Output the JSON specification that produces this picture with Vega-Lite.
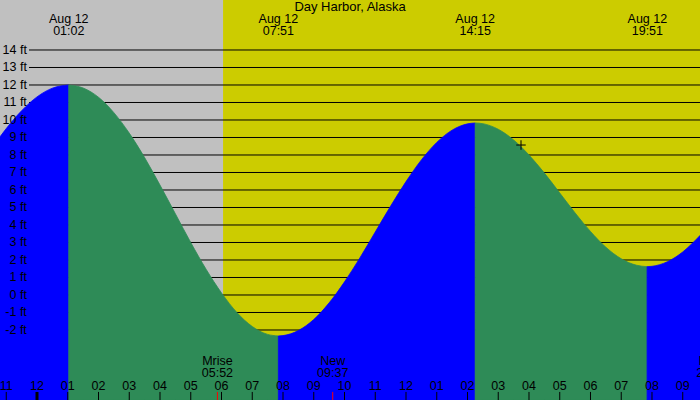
{
  "$schema": "https://vega.github.io/schema/vega-lite/v6.json",
  "width": 700,
  "height": 400,
  "autosize": "none",
  "padding": 0,
  "background": "#ffffff",
  "config": {
    "view": {"stroke": null},
    "text": {"font": "Liberation Sans", "fontSize": 12.5, "color": "black"}
  },
  "resolve": {"scale": {"color": "independent"}},
  "datasets": {
    "bands": [
      {"h": -1.2033, "h2": 6.05, "part": "night"},
      {"h": 6.05, "h2": 21.561, "part": "day"}
    ],
    "levels": [
      {"ft": -2, "lab": "-2 ft"}, {"ft": -1, "lab": "-1 ft"}, {"ft": 0, "lab": "0 ft"},
      {"ft": 1, "lab": "1 ft"}, {"ft": 2, "lab": "2 ft"}, {"ft": 3, "lab": "3 ft"},
      {"ft": 4, "lab": "4 ft"}, {"ft": 5, "lab": "5 ft"}, {"ft": 6, "lab": "6 ft"},
      {"ft": 7, "lab": "7 ft"}, {"ft": 8, "lab": "8 ft"}, {"ft": 9, "lab": "9 ft"},
      {"ft": 10, "lab": "10 ft"}, {"ft": 11, "lab": "11 ft"}, {"ft": 12, "lab": "12 ft"},
      {"ft": 13, "lab": "13 ft"}, {"ft": 14, "lab": "14 ft"}
    ],
    "tide": [
      {"h": -1.2033, "ft": 9.04, "seg": "p", "dir": "rise"},
      {"h": -1.0, "ft": 9.51, "seg": "p", "dir": "rise"},
      {"h": -0.5, "ft": 10.53, "seg": "p", "dir": "rise"},
      {"h": 0, "ft": 11.32, "seg": "p", "dir": "rise"},
      {"h": 0.5, "ft": 11.82, "seg": "p", "dir": "rise"},
      {"h": 1.033, "ft": 12.0, "seg": "p", "dir": "rise"},
      {"h": 1.033, "ft": 12.0, "seg": "a", "dir": "fall"},
      {"h": 1.5, "ft": 11.83, "seg": "a", "dir": "fall"},
      {"h": 2, "ft": 11.3, "seg": "a", "dir": "fall"},
      {"h": 2.5, "ft": 10.42, "seg": "a", "dir": "fall"},
      {"h": 3, "ft": 9.25, "seg": "a", "dir": "fall"},
      {"h": 3.5, "ft": 7.85, "seg": "a", "dir": "fall"},
      {"h": 4, "ft": 6.28, "seg": "a", "dir": "fall"},
      {"h": 4.5, "ft": 4.64, "seg": "a", "dir": "fall"},
      {"h": 5, "ft": 3.0, "seg": "a", "dir": "fall"},
      {"h": 5.5, "ft": 1.47, "seg": "a", "dir": "fall"},
      {"h": 6, "ft": 0.12, "seg": "a", "dir": "fall"},
      {"h": 6.5, "ft": -1.0, "seg": "a", "dir": "fall"},
      {"h": 7, "ft": -1.8, "seg": "a", "dir": "fall"},
      {"h": 7.5, "ft": -2.25, "seg": "a", "dir": "fall"},
      {"h": 7.85, "ft": -2.34, "seg": "a", "dir": "fall"},
      {"h": 7.85, "ft": -2.34, "seg": "b", "dir": "rise"},
      {"h": 8, "ft": -2.32, "seg": "b", "dir": "rise"},
      {"h": 8.5, "ft": -2.03, "seg": "b", "dir": "rise"},
      {"h": 9, "ft": -1.4, "seg": "b", "dir": "rise"},
      {"h": 9.5, "ft": -0.45, "seg": "b", "dir": "rise"},
      {"h": 10, "ft": 0.75, "seg": "b", "dir": "rise"},
      {"h": 10.5, "ft": 2.12, "seg": "b", "dir": "rise"},
      {"h": 11, "ft": 3.6, "seg": "b", "dir": "rise"},
      {"h": 11.5, "ft": 5.08, "seg": "b", "dir": "rise"},
      {"h": 12, "ft": 6.48, "seg": "b", "dir": "rise"},
      {"h": 12.5, "ft": 7.72, "seg": "b", "dir": "rise"},
      {"h": 13, "ft": 8.72, "seg": "b", "dir": "rise"},
      {"h": 13.5, "ft": 9.42, "seg": "b", "dir": "rise"},
      {"h": 14, "ft": 9.78, "seg": "b", "dir": "rise"},
      {"h": 14.25, "ft": 9.83, "seg": "b", "dir": "rise"},
      {"h": 14.25, "ft": 9.83, "seg": "c", "dir": "fall"},
      {"h": 14.5, "ft": 9.79, "seg": "c", "dir": "fall"},
      {"h": 15, "ft": 9.47, "seg": "c", "dir": "fall"},
      {"h": 15.5, "ft": 8.86, "seg": "c", "dir": "fall"},
      {"h": 16, "ft": 8.0, "seg": "c", "dir": "fall"},
      {"h": 16.5, "ft": 6.97, "seg": "c", "dir": "fall"},
      {"h": 17, "ft": 5.83, "seg": "c", "dir": "fall"},
      {"h": 17.5, "ft": 4.69, "seg": "c", "dir": "fall"},
      {"h": 18, "ft": 3.63, "seg": "c", "dir": "fall"},
      {"h": 18.5, "ft": 2.73, "seg": "c", "dir": "fall"},
      {"h": 19, "ft": 2.07, "seg": "c", "dir": "fall"},
      {"h": 19.5, "ft": 1.7, "seg": "c", "dir": "fall"},
      {"h": 19.84, "ft": 1.62, "seg": "c", "dir": "fall"},
      {"h": 19.84, "ft": 1.62, "seg": "d", "dir": "rise"},
      {"h": 20, "ft": 1.64, "seg": "d", "dir": "rise"},
      {"h": 20.5, "ft": 1.9, "seg": "d", "dir": "rise"},
      {"h": 21, "ft": 2.46, "seg": "d", "dir": "rise"},
      {"h": 21.561, "ft": 3.4, "seg": "d", "dir": "rise"}
    ],
    "extremes": [
      {"h": 1.033, "lab": "Aug 12\n01:02"},
      {"h": 7.85, "lab": "Aug 12\n07:51"},
      {"h": 14.25, "lab": "Aug 12\n14:15"},
      {"h": 19.85, "lab": "Aug 12\n19:51"}
    ],
    "moon": [
      {"h": 5.867, "lab": "Mrise\n05:52"},
      {"h": 9.617, "lab": "New\n09:37"},
      {"h": 21.95, "lab": "Mset\n21:57"}
    ],
    "hours": [
      {"h": -1, "lab": "11"}, {"h": 0, "lab": "12"}, {"h": 1, "lab": "01"},
      {"h": 2, "lab": "02"}, {"h": 3, "lab": "03"}, {"h": 4, "lab": "04"},
      {"h": 5, "lab": "05"}, {"h": 6, "lab": "06"}, {"h": 7, "lab": "07"},
      {"h": 8, "lab": "08"}, {"h": 9, "lab": "09"}, {"h": 10, "lab": "10"},
      {"h": 11, "lab": "11"}, {"h": 12, "lab": "12"}, {"h": 13, "lab": "01"},
      {"h": 14, "lab": "02"}, {"h": 15, "lab": "03"}, {"h": 16, "lab": "04"},
      {"h": 17, "lab": "05"}, {"h": 18, "lab": "06"}, {"h": 19, "lab": "07"},
      {"h": 20, "lab": "08"}, {"h": 21, "lab": "09"}
    ],
    "now": [{"h": 15.74, "ft": 8.57}],
    "title": [{"h": 10.18, "ft": 16.2, "lab": "Day Harbor, Alaska"}]
  },
  "layer": [
    {
      "data": {"name": "bands"},
      "mark": "rect",
      "encoding": {
        "x": {"field": "h", "type": "quantitative", "scale": {"domain": [-1.2033, 21.561], "nice": false, "zero": false}, "axis": null},
        "x2": {"field": "h2"},
        "y": {"datum": 16.857, "type": "quantitative", "scale": {"domain": [-6, 16.857], "nice": false, "zero": false}, "axis": null},
        "y2": {"datum": -6},
        "color": {"field": "part", "type": "nominal", "scale": {"domain": ["night", "day"], "range": ["#c0c0c0", "#cccc00"]}, "legend": null}
      }
    },
    {
      "data": {"name": "levels"},
      "mark": {"type": "rule", "color": "black", "strokeWidth": 1},
      "encoding": {
        "y": {"field": "ft", "type": "quantitative", "scale": {"domain": [-6, 16.857], "nice": false, "zero": false}, "axis": null},
        "x": {"datum": -0.26, "type": "quantitative", "scale": {"domain": [-1.2033, 21.561], "nice": false, "zero": false}, "axis": null},
        "x2": {"datum": 21.561}
      }
    },
    {
      "data": {"name": "tide"},
      "mark": {"type": "area", "interpolate": "monotone", "strokeWidth": 0.8},
      "encoding": {
        "x": {"field": "h", "type": "quantitative", "scale": {"domain": [-1.2033, 21.561], "nice": false, "zero": false}, "axis": null},
        "y": {"field": "ft", "type": "quantitative", "scale": {"domain": [-6, 16.857], "nice": false, "zero": false}, "axis": null},
        "y2": {"datum": -6},
        "detail": {"field": "seg", "type": "nominal"},
        "color": {"field": "dir", "type": "nominal", "scale": {"domain": ["rise", "fall"], "range": ["#0000ff", "#2e8b57"]}, "legend": null},
        "stroke": {"field": "dir", "type": "nominal", "scale": {"domain": ["rise", "fall"], "range": ["#0000ff", "#2e8b57"]}, "legend": null}
      }
    },
    {
      "data": {"name": "levels"},
      "mark": {"type": "text", "align": "right", "baseline": "middle"},
      "encoding": {
        "y": {"field": "ft", "type": "quantitative"},
        "x": {"datum": -0.33, "type": "quantitative"},
        "text": {"field": "lab"}
      }
    },
    {
      "data": {"name": "extremes"},
      "mark": {"type": "text", "align": "center", "baseline": "alphabetic", "lineBreak": "\n", "lineHeight": 12},
      "encoding": {
        "x": {"field": "h", "type": "quantitative"},
        "y": {"datum": 15.53, "type": "quantitative"},
        "text": {"field": "lab"}
      }
    },
    {
      "data": {"name": "moon"},
      "mark": {"type": "text", "align": "center", "baseline": "alphabetic", "lineBreak": "\n", "lineHeight": 12},
      "encoding": {
        "x": {"field": "h", "type": "quantitative"},
        "y": {"datum": -4.02, "type": "quantitative"},
        "text": {"field": "lab"}
      }
    },
    {
      "data": {"name": "moon"},
      "mark": {"type": "rule", "color": "#ff0000", "strokeWidth": 1},
      "encoding": {
        "x": {"field": "h", "type": "quantitative"},
        "y": {"datum": -5.54, "type": "quantitative"},
        "y2": {"datum": -6}
      }
    },
    {
      "data": {"name": "hours"},
      "mark": {"type": "text", "align": "center", "baseline": "alphabetic"},
      "encoding": {
        "x": {"field": "h", "type": "quantitative"},
        "y": {"datum": -5.45, "type": "quantitative"},
        "text": {"field": "lab"}
      }
    },
    {
      "data": {"name": "hours"},
      "mark": {"type": "rule", "color": "black"},
      "encoding": {
        "x": {"field": "h", "type": "quantitative"},
        "y": {"datum": -5.54, "type": "quantitative"},
        "y2": {"datum": -6},
        "strokeWidth": {"condition": {"test": "datum.h == 0", "value": 3}, "value": 1}
      }
    },
    {
      "data": {"name": "now"},
      "mark": {"type": "point", "shape": "M-1,0L1,0M0,-1L0,1", "filled": false, "stroke": "black", "strokeWidth": 1, "size": 90, "opacity": 1},
      "encoding": {
        "x": {"field": "h", "type": "quantitative"},
        "y": {"field": "ft", "type": "quantitative"}
      }
    },
    {
      "data": {"name": "title"},
      "mark": {"type": "text", "align": "center", "baseline": "alphabetic", "fontSize": 13},
      "encoding": {
        "x": {"field": "h", "type": "quantitative"},
        "y": {"field": "ft", "type": "quantitative"},
        "text": {"field": "lab"}
      }
    }
  ]
}
